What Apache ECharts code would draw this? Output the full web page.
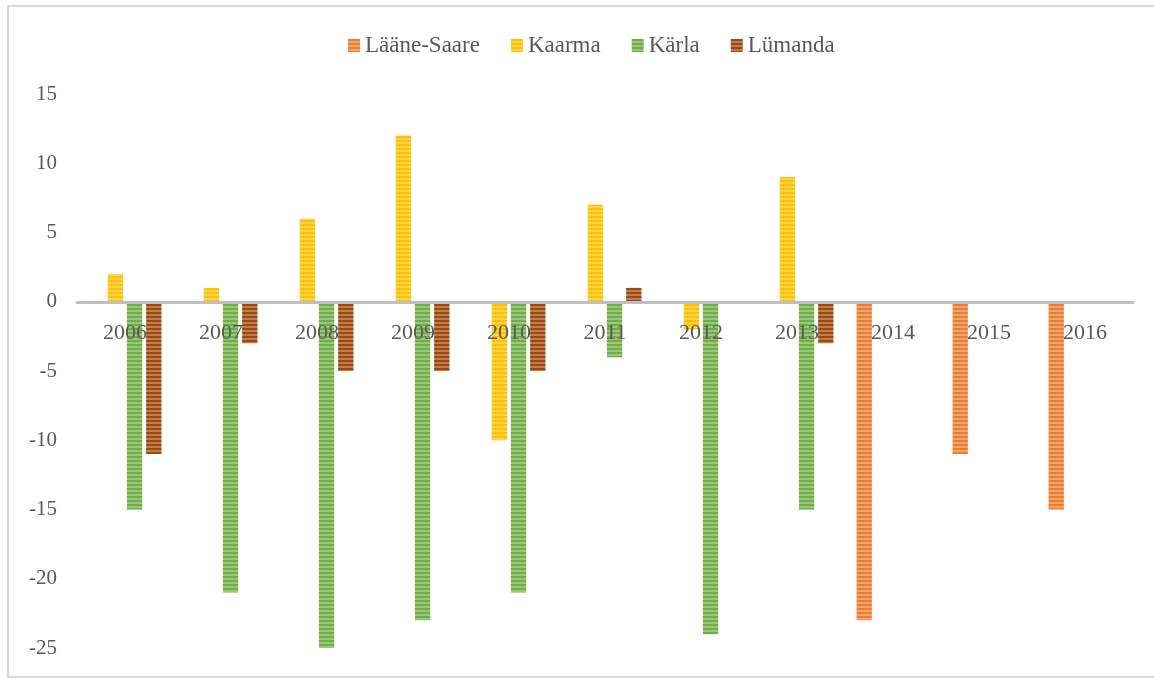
<!DOCTYPE html>
<html><head><meta charset="utf-8">
<script src="https://cdn.jsdelivr.net/npm/echarts@6/dist/echarts.min.js"></script>
<style>html,body{margin:0;padding:0;background:#fff}#c{width:1154px;height:678px}</style>
</head><body><div id="c"></div>
<script>
const categories = ['2006','2007','2008','2009','2010','2011','2012','2013','2014','2015','2016'];
const seriesNames = ['Lääne-Saare','Kaarma','Kärla','Lümanda'];
const laaneSaare = [null,null,null,null,null,null,null,null,-23,-11,-15];
const kaarma = [2,1,6,12,-10,7,-2,9,null,null,null];
const karla = [-15,-21,-25,-23,-21,-4,-24,-15,null,null,null];
const lumanda = [-11,-3,-5,-5,-5,1,null,-3,null,null,null];
const yTicks = {min:-25, max:15, interval:5};

const colors = ['#ED7D31','#FFC000','#70AD47','#9E480E'];
function lighten(hex, t){
  const n=parseInt(hex.slice(1),16);
  const r=(n>>16)&255,g=(n>>8)&255,b=n&255;
  const f=v=>Math.round(v+(255-v)*t);
  return 'rgb('+f(r)+','+f(g)+','+f(b)+')';
}
function pattern(hex){
  const cv=document.createElement('canvas');cv.width=4;cv.height=4;
  const ctx=cv.getContext('2d');
  ctx.fillStyle=hex;ctx.fillRect(0,0,4,4);
  ctx.fillStyle=lighten(hex,0.3);ctx.fillRect(0,2,4,2);
  return {image:cv,repeat:'repeat'};
}
const dataArr=[laaneSaare,kaarma,karla,lumanda];
const chart=echarts.init(document.getElementById('c'));
const font='"Liberation Serif","Times New Roman",serif';
const gridTop=94, gridBottom=30, H=678;
const zeroFromBottom=(0-yTicks.min)/(yTicks.max-yTicks.min)*(H-gridTop-gridBottom);
chart.setOption({
  animation:false,
  textStyle:{fontFamily:font},
  graphic:[{type:'rect',shape:{x:8,y:6,width:1160,height:671},style:{fill:'none',stroke:'#d9d9d9',lineWidth:2},silent:true}],
  legend:{
    top:29,left:343,itemWidth:12,itemHeight:13,itemGap:31,
    textStyle:{fontFamily:font,fontSize:23,color:'#595959'},
    data:seriesNames.map((n,i)=>({name:n,icon:'rect',itemStyle:{color:pattern(colors[i])}}))
  },
  grid:{left:77,right:21,top:gridTop,bottom:gridBottom,containLabel:false,outerBoundsMode:'none'},
  xAxis:{type:'category',data:categories,z:5,offset:-zeroFromBottom,
    axisLine:{onZero:false,lineStyle:{color:'#BFBFBF',width:3}},
    axisTick:{show:false},
    axisLabel:{fontFamily:font,fontSize:22,color:'#595959',margin:20}
  },
  yAxis:{type:'value',min:yTicks.min,max:yTicks.max,interval:yTicks.interval,
    splitLine:{show:false},axisLine:{show:false},axisTick:{show:false},
    axisLabel:{fontFamily:font,fontSize:21,color:'#595959',margin:20}
  },
  series:seriesNames.map((n,i)=>({
    name:n,type:'bar',data:dataArr[i],barWidth:'16%',barGap:'25%',
    itemStyle:{color:pattern(colors[i])}
  }))
});
</script></body></html>
